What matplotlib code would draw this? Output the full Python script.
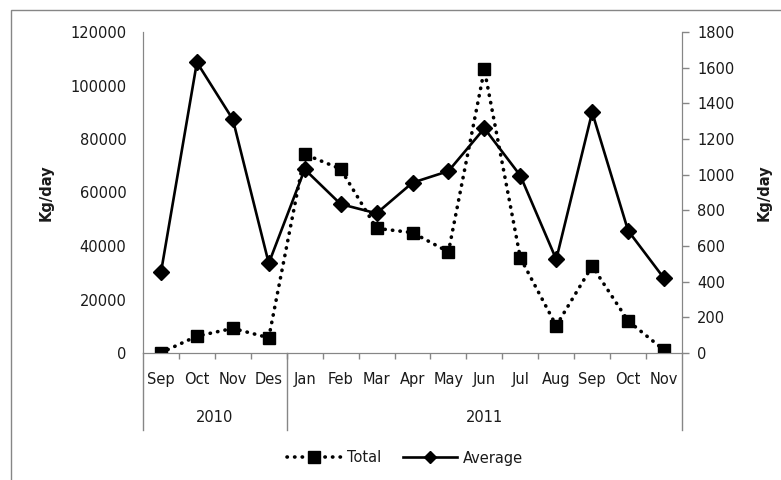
import matplotlib
matplotlib.use("Agg")
import matplotlib.pyplot as plt
from matplotlib.patches import Rectangle
from matplotlib.lines import Line2D
import matplotlib.transforms as mtransforms

plt.rcParams['font.family'] = ['DejaVu Sans']

months = ["Sep", "Oct", "Nov", "Des", "Jan", "Feb", "Mar", "Apr", "May", "Jun",
          "Jul", "Aug", "Sep", "Oct", "Nov"]
years = ["2010", "2011"]
year_counts = [4, 11]
total = [100, 6300, 9200, 5700, 74300, 68800, 46600, 45000, 37800, 106000,
         35600, 10200, 32500, 12000, 1100]
average = [452, 1630, 1310, 503, 1030, 835, 783, 955, 1020, 1260,
           995, 525, 1350, 686, 419]

GRAY = "#868686"
TXT = "#1a1a1a"
FS = 10.5

fig = plt.figure(figsize=(7.81, 4.80), dpi=100)
# outer chart border
fig.patches.append(Rectangle((11 / 781, -0.1), 1.2, 1 - 10 / 480 + 0.1,
                             transform=fig.transFigure, fill=False,
                             edgecolor=GRAY, linewidth=1.0))

ax = fig.add_axes([143 / 781, 1 - 353 / 480, (682 - 143) / 781, (353 - 32) / 480])
ax2 = ax.twinx()

x = list(range(len(months)))

ax.plot(x, total, color="black", linestyle=(0, (0.1, 2.0)), linewidth=2.6,
        dash_capstyle="round", marker="s", markersize=8.5, zorder=3,
        label="Total")
ax2.plot(x, average, color="black", linestyle="-", linewidth=1.9,
         marker="D", markersize=8, zorder=3, label="Average")

ax.set_xlim(-0.5, len(months) - 0.5)
ax.set_ylim(0, 120000)
ax.set_yticks(range(0, 120001, 20000))
ax2.set_ylim(0, 1800)
ax2.set_yticks(range(0, 1801, 200))

for a in (ax, ax2):
    for s in a.spines.values():
        s.set_color(GRAY)
    a.spines["top"].set_visible(False)

ax.tick_params(axis="y", length=0, pad=12, labelsize=FS, labelcolor=TXT)
ax2.tick_params(axis="y", length=5, width=1, color=GRAY, pad=6,
                labelsize=FS, labelcolor=TXT)

ax.set_xticks(x)
ax.set_xticklabels(months)
ax.tick_params(axis="x", which="major", length=0, pad=14, labelsize=FS,
               labelcolor=TXT)
ax.set_xticks([i - 0.5 for i in range(1, len(months))], minor=True)
ax.tick_params(axis="x", which="minor", length=4, width=1, color=GRAY,
               direction="out")

ax.set_ylabel("Kg/day", fontsize=FS, fontweight="bold", color=TXT, labelpad=12)
ax2.set_ylabel("Kg/day", fontsize=FS, fontweight="bold", color=TXT, labelpad=16)

# category group separators and year labels
trans = mtransforms.blended_transform_factory(ax.transData, fig.transFigure)
y_top = 1 - 353 / 480
y_bot = 1 - 430 / 480
bounds = [-0.5]
for c in year_counts:
    bounds.append(bounds[-1] + c)
for b in bounds:
    ax.add_line(Line2D([b, b], [y_top, y_bot], transform=trans, color=GRAY,
                       linewidth=1, clip_on=False))
for i, yr in enumerate(years):
    xc = (bounds[i] + bounds[i + 1]) / 2
    ax.text(xc, 1 - 417 / 480, yr, transform=trans, ha="center", va="center",
            fontsize=FS, color=TXT)

h1, l1 = ax.get_legend_handles_labels()
h2, l2 = ax2.get_legend_handles_labels()
leg = fig.legend(h1 + h2, l1 + l2, loc="center",
                 bbox_to_anchor=(405 / 781, 1 - 458 / 480),
                 ncol=2, frameon=False, fontsize=FS, handlelength=3.7,
                 columnspacing=1.5, handletextpad=0.4, labelcolor=TXT)
leg.legend_handles[1].set_markersize(6.5)

fig.savefig("out.png", dpi=100)
